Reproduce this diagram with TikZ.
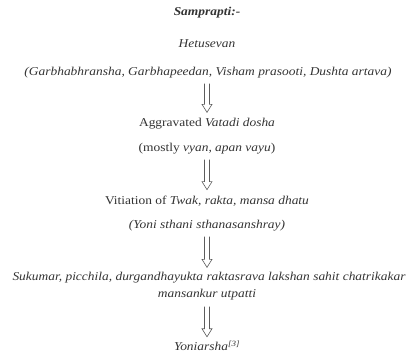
\documentclass[tikz,border=0pt]{standalone}
\usepackage{fontspec}
\setmainfont{Liberation Serif}[FakeStretch=1.12]
\usetikzlibrary{calc}
\definecolor{ink}{HTML}{333333}
\tikzset{
  txt/.style={inner sep=0pt, text=ink, font=\fontsize{12}{14}\selectfont},
  itx/.style={txt, font=\fontsize{12}{14}\selectfont\itshape},
  harrow/.style={draw=ink!80, line width=0.6pt, fill=white}
}
\begin{document}
\begin{tikzpicture}[x=1pt,y=-1pt]
\useasboundingbox (0,0) rectangle (414,354);
\node[itx, font=\fontsize{12}{14}\selectfont\bfseries\itshape] (t) at (207,13) {Samprapti:-};
\node[itx] (h1) at (207,44) {Hetusevan};
\node[itx] (h2) at (208,73) {(Garbhabhransha, Garbhapeedan, Visham prasooti, Dushta artava)};
\node[txt] (a1) at (207,124) {Aggravated \textit{Vatadi dosha}};
\node[txt] (a2) at (207,149) {(mostly \textit{vyan, apan vayu})};
\node[txt] (v1) at (207,201) {Vitiation of \textit{Twak, rakta, mansa dhatu}};
\node[itx] (v2) at (207,226) {(Yoni sthani sthanasanshray)};
\node[itx] (s1) at (209,278) {Sukumar, picchila, durgandhayukta raktasrava lakshan sahit chatrikakar};
\node[itx] (s2) at (207,295) {mansankur utpatti};
\node[itx] (y) at (207,346) {Yoniarsha\textsuperscript{[3]}};
\newcommand{\harr}[4]{%
  \draw[harrow] let \p1=(#1.south), \p2=(#2.north) in
    (207pt-2.5pt,\y1-#3) -- (207pt-2.5pt,\y2+#4+8pt) -- (207pt-5pt,\y2+#4+8pt)
    -- (207pt,\y2+#4) -- (207pt+5pt,\y2+#4+8pt) -- (207pt+2.5pt,\y2+#4+8pt)
    -- (207pt+2.5pt,\y1-#3);}
\harr{h2}{a1}{5pt}{6pt}
\harr{a2}{v1}{5pt}{6pt}
\harr{v2}{s1}{5pt}{5pt}
\harr{s2}{y}{6pt}{4pt}
\end{tikzpicture}
\end{document}
